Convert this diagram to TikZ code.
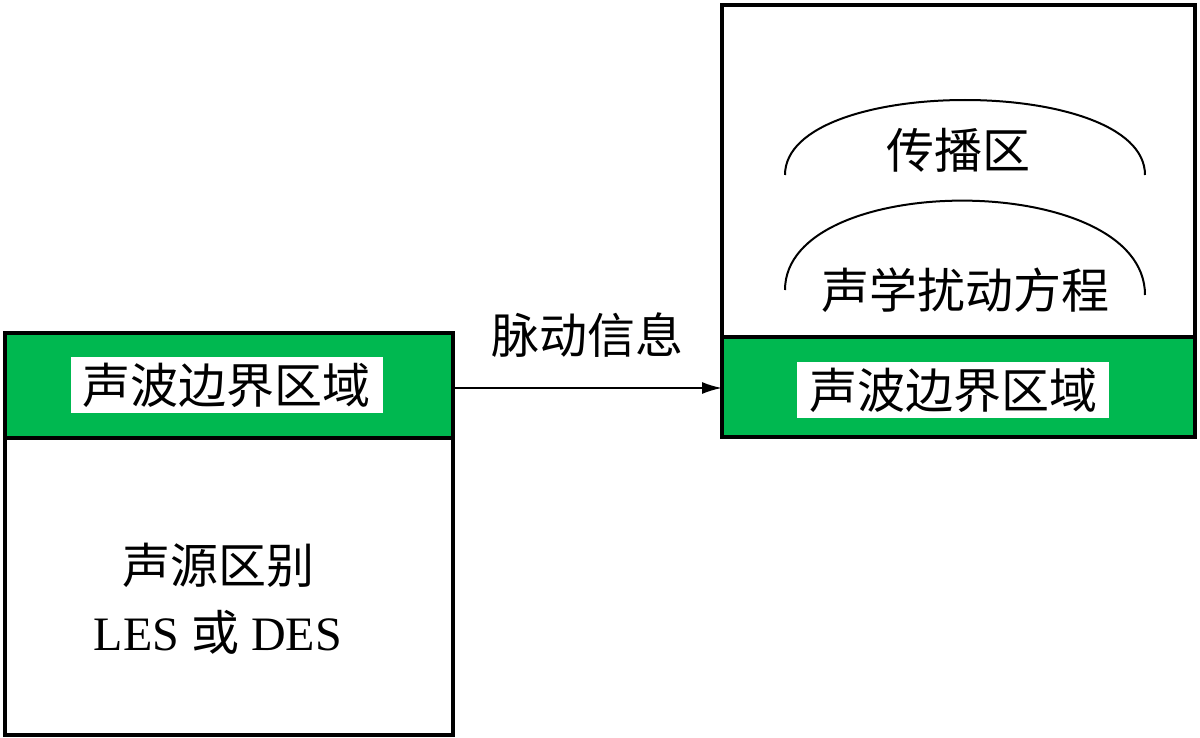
\documentclass[tikz,border=0pt]{standalone}
\usepackage{fontspec}
\usetikzlibrary{arrows.meta}
\setmainfont{Liberation Serif}
\newfontfamily\cjk{Noto Sans CJK SC}
\definecolor{bandgreen}{RGB}{0,184,80}
\begin{document}
\begin{tikzpicture}[x=0.5pt,y=-0.5pt,
  txt/.style={font=\cjk\fontsize{24}{28}\selectfont,inner sep=1pt},
  lbl/.style={txt,fill=white,inner xsep=6pt,inner ysep=3pt},
  frame/.style={draw=black,line width=1.6pt}]
\useasboundingbox (0,0) rectangle (1200,738);
% left box
\fill[bandgreen] (6,334) rectangle (452,438);
\draw[frame] (5,333) rectangle (453,735);
\draw[frame] (5,438) -- (453,438);
\node[lbl] (Lb) at (227,385) {声波边界区域};
\node[txt] (src) at (218,565) {声源区别};
\node[font=\fontsize{24}{28}\selectfont] (les) at (218,632) {LES {\cjk 或} DES};
% right box
\fill[bandgreen] (723,337) rectangle (1194,436);
\draw[frame] (722,5) rectangle (1195,437);
\draw[frame] (722,337) -- (1195,337);
\node[lbl] (Rb) at (953,390) {声波边界区域};
\node[txt] (prop) at (958,150) {传播区};
\node[txt] (eq) at (965,290) {声学扰动方程};
\draw[line width=1pt] (785,175) .. controls (785,75) and (1145,75) .. (1145,175);
\draw[line width=1pt] (785,290) .. controls (785,170) and (1145,170) .. (1145,295);
% arrow
\coordinate (a1) at (453,388);
\coordinate (a2) at (722,388);
\draw[line width=1pt,-{Latex[length=10pt,width=6pt]}] (a1) -- node[txt,above=14pt] (pulse) {脉动信息} (a2);
\end{tikzpicture}
\end{document}
